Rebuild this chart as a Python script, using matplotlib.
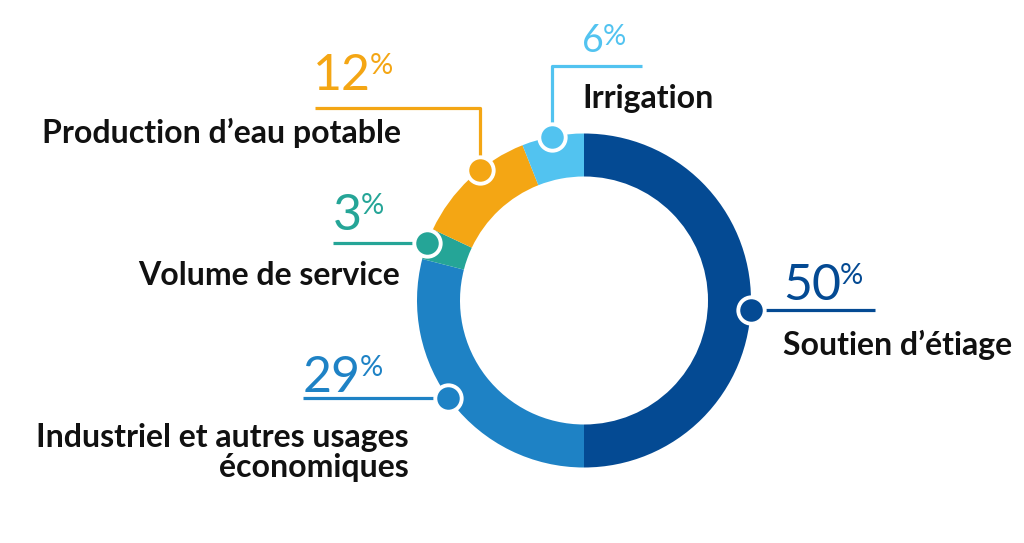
import matplotlib
matplotlib.use('Agg')
import numpy as np
from matplotlib import pyplot as plt

# données du graphique
labels = ['Soutien d’étiage', 'Industriel et autres usages\néconomiques', 'Volume de service',
          'Production d’eau potable', 'Irrigation']
shares = [50, 29, 3, 12, 6]
colors = ['#044a93', '#1e82c5', '#25a597', '#f4a614', '#52c3f0']

W, H = 1024, 543
CX, CY, R_OUT, R_IN = 584, 300.5, 167, 124

# mise en page des étiquettes (pixels)
layout = [
    dict(kind='h', end_x=875, num_xy=(783, 300), lab_xy=(783, 355), ha='left', shift=-3.3),
    dict(kind='h', end_x=303, num_xy=(303, 392), lab_xy=(409, 447), ha='right', shift=-2.2),
    dict(kind='h', end_x=333, num_xy=(333, 230), lab_xy=(400, 285), ha='right', shift=-0.2),
    dict(kind='v', end_y=108, end_x=315, num_xy=(313, 90), lab_xy=(401, 143), ha='right', shift=-4.5),
    dict(kind='v', end_y=66, end_x=642, num_xy=(582, 52), lab_xy=(582, 108), ha='left', shift=0.2,
         num_size=27),
]

plt.rcParams['font.family'] = ['Lato', 'DejaVu Sans']

fig = plt.figure(figsize=(W / 100, H / 100), dpi=100)
ax = fig.add_axes([0, 0, 1, 1])
ax.set_xlim(0, W)
ax.set_ylim(H, 0)
ax.axis('off')

pie_ax = fig.add_axes([(CX - R_OUT) / W, 1 - (CY + R_OUT) / H, 2 * R_OUT / W, 2 * R_OUT / H])
wedges, _ = pie_ax.pie(shares, colors=colors, startangle=90, counterclock=False, radius=1,
                       wedgeprops=dict(width=(R_OUT - R_IN) / R_OUT, linewidth=0))
pie_ax.set_xlim(-1, 1)
pie_ax.set_ylim(-1, 1)
pie_ax.axis('off')

# le texte et les repères par-dessus le donut
ax.set_zorder(2)
ax.patch.set_alpha(0)

renderer = fig.canvas.get_renderer()

for w, lab, val, col, lay in zip(wedges, labels, shares, colors, layout):
    ang = np.deg2rad((w.theta1 + w.theta2) / 2 + lay['shift'])
    dx = CX + R_OUT * np.cos(ang)
    dy = CY - R_OUT * np.sin(ang)

    if lay['kind'] == 'h':
        xs, ys = [dx, lay['end_x']], [dy, dy]
    else:
        xs, ys = [dx, dx, lay['end_x']], [dy, lay['end_y'], lay['end_y']]
    ax.plot(xs, ys, color=col, lw=2.3, solid_capstyle='butt', zorder=3)
    ax.plot(dx, dy, 'o', ms=19, mfc=col, mec='white', mew=2.8, zorder=4)

    nx, ny = lay['num_xy']
    nsize = lay.get('num_size', 36)
    t = ax.text(nx, ny, str(val), color=col, fontsize=nsize, ha='left', va='baseline', zorder=5)
    bb = t.get_window_extent(renderer).transformed(ax.transData.inverted())
    digit_h = nsize * 100 / 72 * 0.72
    ax.text(bb.x1 - 1, ny - digit_h + 20, '%', color=col, fontsize=21, ha='left', va='baseline',
            zorder=5)

    lx, ly = lay['lab_xy']
    for i, line in enumerate(lab.split('\n')):
        ax.text(lx, ly + i * 30, line, color='#111111', fontsize=23, fontweight='bold',
                ha=lay['ha'], va='baseline', zorder=5)

fig.savefig('out.png', dpi=100, facecolor='white')
